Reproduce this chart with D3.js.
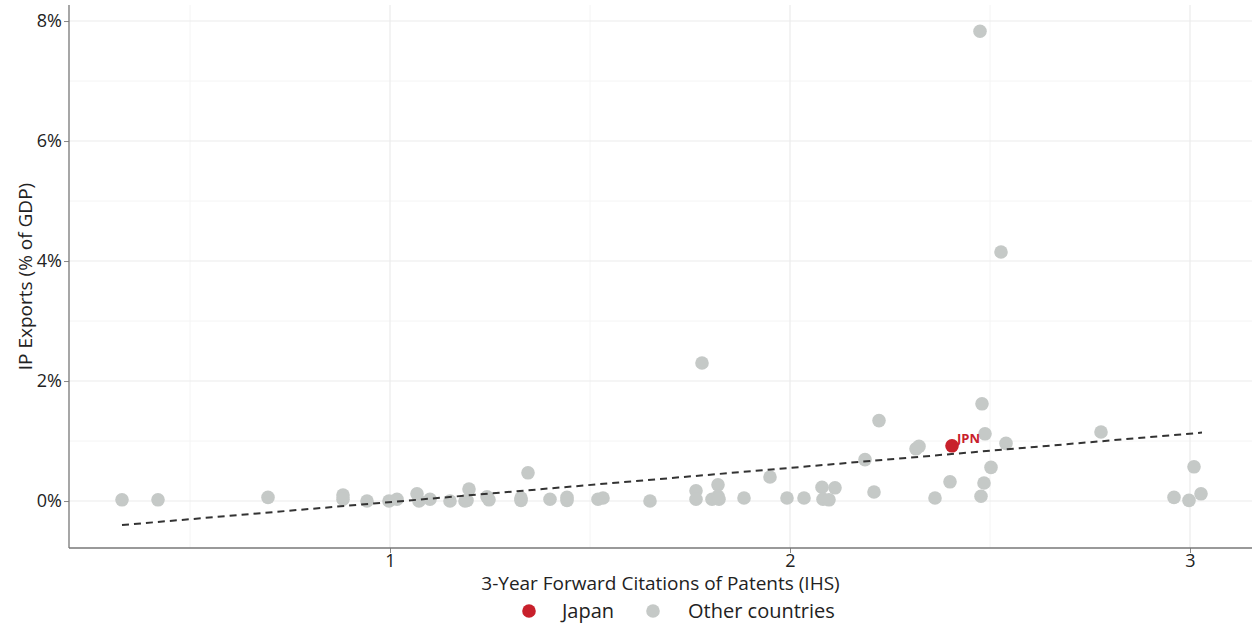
<!DOCTYPE html>
<html>
<head>
<meta charset="utf-8">
<script src="https://cdn.jsdelivr.net/npm/d3@7"></script>
<style>
  body { margin: 0; background: #fff; }
  svg { font-family: "Open Sans", "Noto Sans", sans-serif; }
</style>
</head>
<body>
<svg width="1254" height="624"></svg>
<script>
// citations (x) and IP exports as % of GDP (y), other countries
const otherX = [0.33, 0.42, 0.695, 0.8825, 0.8825, 0.9425, 0.9975, 1.0175, 1.0675, 1.0725,
  1.10, 1.15, 1.1875, 1.1975, 1.1925, 1.2425, 1.2475, 1.3275, 1.3275, 1.345,
  1.40, 1.4425, 1.4425, 1.52, 1.5325, 1.65, 1.765, 1.765, 1.78, 1.805,
  1.82, 1.82, 1.8225, 1.885, 1.95, 1.9925, 2.035, 2.08, 2.0825, 2.0975,
  2.1125, 2.1875, 2.21, 2.2225, 2.315, 2.3225, 2.3625, 2.40, 2.475, 2.4775,
  2.48, 2.485, 2.4875, 2.5025, 2.5275, 2.54, 2.7775, 2.96, 2.9975, 3.01, 3.0275];
const otherY = [0.02, 0.02, 0.06, 0.10, 0.03, 0.0, 0.0, 0.03, 0.12, 0.0,
  0.03, 0.0, 0.0, 0.20, 0.01, 0.07, 0.02, 0.01, 0.05, 0.47,
  0.03, 0.06, 0.01, 0.03, 0.05, 0.0, 0.17, 0.03, 2.30, 0.03,
  0.27, 0.08, 0.03, 0.05, 0.40, 0.05, 0.05, 0.23, 0.03, 0.02,
  0.22, 0.69, 0.15, 1.34, 0.87, 0.91, 0.05, 0.32, 7.83, 0.08,
  1.62, 0.30, 1.12, 0.56, 4.15, 0.96, 1.15, 0.06, 0.01, 0.57, 0.12];

const japanX = [2.405];
const japanY = [0.92];
const japanLabel = ['JPN'];

// fitted trend line, read from its ends
const trendX = [0.33, 3.03];
const trendY = [-0.40, 1.14];

const xTicks = [1, 2, 3];
const xMinor = [0.5, 1.5, 2.5];
const yTicks = [0, 2, 4, 6, 8];
const yMinor = [1, 3, 5, 7];

const legendLabels = ['Japan', 'Other countries'];
const colors = { japan: '#c8202b', other: '#c5c9c7' };

const svg = d3.select('svg');
const margin = { top: 5, left: 69, right: 2, bottom: 76 };
const width = +svg.attr('width') - margin.left - margin.right;
const height = +svg.attr('height') - margin.top - margin.bottom;

const x = d3.scaleLinear().domain([0.1975, 3.155]).range([0, width]);
const y = d3.scaleLinear().domain([-0.783, 8.267]).range([height, 0]);

const g = svg.append('g').attr('transform', `translate(${margin.left},${margin.top})`);

// grid
g.selectAll('.ymin').data(yMinor).enter().append('line')
  .attr('x1', 0).attr('x2', width).attr('y1', d => y(d)).attr('y2', d => y(d))
  .attr('stroke', '#f4f4f4').attr('stroke-width', 1);
g.selectAll('.xmin').data(xMinor).enter().append('line')
  .attr('y1', 0).attr('y2', height).attr('x1', d => x(d)).attr('x2', d => x(d))
  .attr('stroke', '#f4f4f4').attr('stroke-width', 1);
g.selectAll('.ymaj').data(yTicks).enter().append('line')
  .attr('x1', 0).attr('x2', width).attr('y1', d => y(d)).attr('y2', d => y(d))
  .attr('stroke', '#ebebeb').attr('stroke-width', 1.2);
g.selectAll('.xmaj').data(xTicks).enter().append('line')
  .attr('y1', 0).attr('y2', height).attr('x1', d => x(d)).attr('x2', d => x(d))
  .attr('stroke', '#ebebeb').attr('stroke-width', 1.2);

// axes
const yAxis = g.append('g')
  .call(d3.axisLeft(y).tickValues(yTicks).tickSize(5).tickPadding(2).tickFormat(d => d + '%'));
const xAxis = g.append('g')
  .attr('transform', `translate(0,${height})`)
  .call(d3.axisBottom(x).tickValues(xTicks).tickSize(5).tickPadding(1).tickFormat(d3.format('d')));
[xAxis, yAxis].forEach(a => {
  a.select('.domain').remove();
  a.selectAll('.tick line').attr('stroke', '#888');
  a.selectAll('text').attr('font-size', 18).attr('fill', '#222').attr('font-family', '"Open Sans", sans-serif');
});
g.append('line').attr('x1', 0).attr('x2', 0).attr('y1', 0).attr('y2', height)
  .attr('stroke', '#777').attr('stroke-width', 1.3);
g.append('line').attr('x1', 0).attr('x2', width).attr('y1', height).attr('y2', height)
  .attr('stroke', '#777').attr('stroke-width', 1.3);

// points
const others = otherX.map((v, i) => ({ x: v, y: otherY[i] }));
g.selectAll('.other').data(others).enter().append('circle')
  .attr('cx', d => x(d.x)).attr('cy', d => y(d.y)).attr('r', 6.8)
  .attr('fill', colors.other);

// trend
const trend = trendX.map((v, i) => ({ x: v, y: trendY[i] }));
g.append('path').datum(trend)
  .attr('d', d3.line().x(d => x(d.x)).y(d => y(d.y)))
  .attr('stroke', '#333').attr('stroke-width', 2).attr('stroke-dasharray', '7,5')
  .attr('fill', 'none');

const japan = japanX.map((v, i) => ({ x: v, y: japanY[i], label: japanLabel[i] }));
g.selectAll('.japan').data(japan).enter().append('circle')
  .attr('cx', d => x(d.x)).attr('cy', d => y(d.y)).attr('r', 6.8)
  .attr('fill', colors.japan);
g.selectAll('.jlab').data(japan).enter().append('text')
  .attr('x', d => x(d.x) + 5).attr('y', d => y(d.y) - 3)
  .text(d => d.label)
  .attr('font-size', 13).attr('font-weight', 'bold').attr('fill', colors.japan);

// titles
svg.append('text')
  .attr('x', margin.left + width / 2).attr('y', 590)
  .attr('text-anchor', 'middle').attr('font-size', 19).attr('fill', '#222')
  .text('3-Year Forward Citations of Patents (IHS)');
svg.append('text')
  .attr('transform', `translate(32,${margin.top + height / 2}) rotate(-90)`)
  .attr('text-anchor', 'middle').attr('font-size', 19).attr('fill', '#222')
  .text('IP Exports (% of GDP)');

// legend
const legendX = [529, 653];
const legendColors = [colors.japan, colors.other];
const leg = svg.append('g');
leg.selectAll('circle').data(legendLabels).enter().append('circle')
  .attr('cx', (d, i) => legendX[i]).attr('cy', 611).attr('r', 6.8)
  .attr('fill', (d, i) => legendColors[i]);
leg.selectAll('text').data(legendLabels).enter().append('text')
  .attr('x', (d, i) => legendX[i] + (i === 0 ? 33 : 35)).attr('y', 618)
  .attr('font-size', 20).attr('fill', '#222')
  .text(d => d);
</script>
</body>
</html>
